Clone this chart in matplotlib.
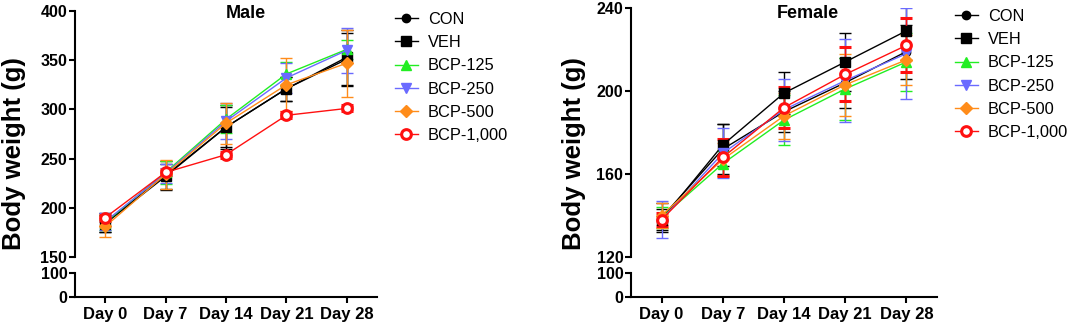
import matplotlib
matplotlib.use("Agg")
from matplotlib import pyplot as plt
from matplotlib.lines import Line2D

plt.rcParams['font.family'] = ['Liberation Sans', 'DejaVu Sans']

days = ['Day 0', 'Day 7', 'Day 14', 'Day 21', 'Day 28']
groups = ['CON', 'VEH', 'BCP-125', 'BCP-250', 'BCP-500', 'BCP-1,000']

# male means / SD (g)
male_con = [185, 233, 282, 321, 351]
male_veh = [184, 232, 282, 321, 353]
male_125 = [185, 236, 290, 336, 361]
male_250 = [186, 235, 288, 332, 360]
male_500 = [181, 234, 286, 325, 347]
male_1000 = [190, 236, 254, 294, 301]

male_con_sd = [10, 15, 22, 12, 27]
male_veh_sd = [9, 13, 20, 12, 28]
male_125_sd = [8, 12, 14, 12, 10]
male_250_sd = [9, 10, 18, 15, 23]
male_500_sd = [11, 15, 21, 27, 34]
male_1000_sd = [3, 3, 3, 3, 3]

# female means / SD (g)
female_con = [139, 172, 190, 204, 219]
female_veh = [138, 174, 199, 214, 229]
female_125 = [139, 165, 186, 201, 214]
female_250 = [138, 170, 191, 205, 218]
female_500 = [140, 167, 188, 203, 215]
female_1000 = [138, 168, 192, 208, 222]

female_con_sd = [7, 12, 10, 12, 13]
female_veh_sd = [5, 10, 10, 14, 14]
female_125_sd = [5, 6, 12, 15, 14]
female_250_sd = [9, 12, 15, 20, 22]
female_500_sd = [6, 8, 11, 15, 12]
female_1000_sd = [3, 9, 10, 13, 13]

styles = [
    dict(color='black', marker='o', ms=6, mfc='black'),
    dict(color='black', marker='s', ms=6.5, mfc='black'),
    dict(color='#22ee22', marker='^', ms=6.5, mfc='#22ee22'),
    dict(color='#6a6aff', marker='v', ms=6.5, mfc='#6a6aff'),
    dict(color='#ff8c1a', marker='D', ms=6, mfc='#ff8c1a'),
    dict(color='#ff1010', marker='o', ms=7, mfc='white', mew=2.2),
]

W, H = 1072, 323
fig = plt.figure(figsize=(W / 100, H / 100), dpi=100)


def fx(px):
    return px / W


def fy(py):
    return 1 - py / H


def panel(left, right, top, ylim, yticks, means, sds, title, title_x, ylabel_x, leg_x, leg_y):
    ax_t = fig.add_axes([fx(left), fy(257), fx(right - left), fy(top) - fy(257)])
    ax_b = fig.add_axes([fx(left), fy(297), fx(right - left), fy(273) - fy(297)])
    x = list(range(len(days)))
    for m, s, st in zip(means, sds, styles):
        ax_t.errorbar(x, m, yerr=s, color=st['color'], lw=1, elinewidth=1,
                      capsize=4, capthick=1, marker=st['marker'], ms=st['ms'],
                      mfc=st['mfc'], mec=st['color'], mew=st.get('mew', 1),
                      zorder=3)
    for ax in (ax_t, ax_b):
        ax.set_xlim(-0.5, 4.5)
        ax.spines['top'].set_visible(False)
        ax.spines['right'].set_visible(False)
        ax.spines['left'].set_linewidth(1.5)
        ax.spines['bottom'].set_linewidth(1.5)
        ax.tick_params(axis='y', width=1.5, length=4.5, labelsize=11.5, pad=1)
    ax_t.set_ylim(*ylim)
    ax_t.set_yticks(yticks)
    ax_t.spines['bottom'].set_visible(False)
    ax_t.set_xticks([])
    ax_b.set_ylim(0, 100)
    ax_b.set_yticks([0, 100])
    ax_b.set_xticks(x)
    ax_b.set_xticklabels(days, fontweight='bold', fontsize=12)
    ax_b.tick_params(axis='x', width=1.5, length=4, pad=3)
    for ax in (ax_t, ax_b):
        for t in ax.get_yticklabels():
            t.set_fontweight('bold')
    fig.text(fx(title_x), fy(14), title, ha='center', va='center',
             fontsize=13, fontweight='bold')
    fig.text(fx(ylabel_x), fy(154), 'Body weight (g)', rotation=90,
             ha='center', va='center', fontsize=18.5, fontweight='bold')
    handles = [Line2D([], [], color=st['color'], lw=1, marker=st['marker'],
                      ms=st['ms'], mfc=st['mfc'], mec=st['color'],
                      mew=st.get('mew', 1)) for st in styles]
    fig.legend(handles, groups, loc='upper left',
               bbox_to_anchor=(fx(leg_x), fy(leg_y)), frameon=False,
               fontsize=11.8, handlelength=1.4, handletextpad=0.6,
               labelspacing=0.5, borderaxespad=0, borderpad=0)


panel(75, 377, 11, (150, 400), [150, 200, 250, 300, 350, 400],
      [male_con, male_veh, male_125, male_250, male_500, male_1000],
      [male_con_sd, male_veh_sd, male_125_sd, male_250_sd, male_500_sd, male_1000_sd],
      'Male', 246, 14, 395, 12)
panel(631, 937, 8, (120, 240), [120, 160, 200, 240],
      [female_con, female_veh, female_125, female_250, female_500, female_1000],
      [female_con_sd, female_veh_sd, female_125_sd, female_250_sd, female_500_sd, female_1000_sd],
      'Female', 808, 574, 955, 9)

fig.savefig('out.png', dpi=100)
